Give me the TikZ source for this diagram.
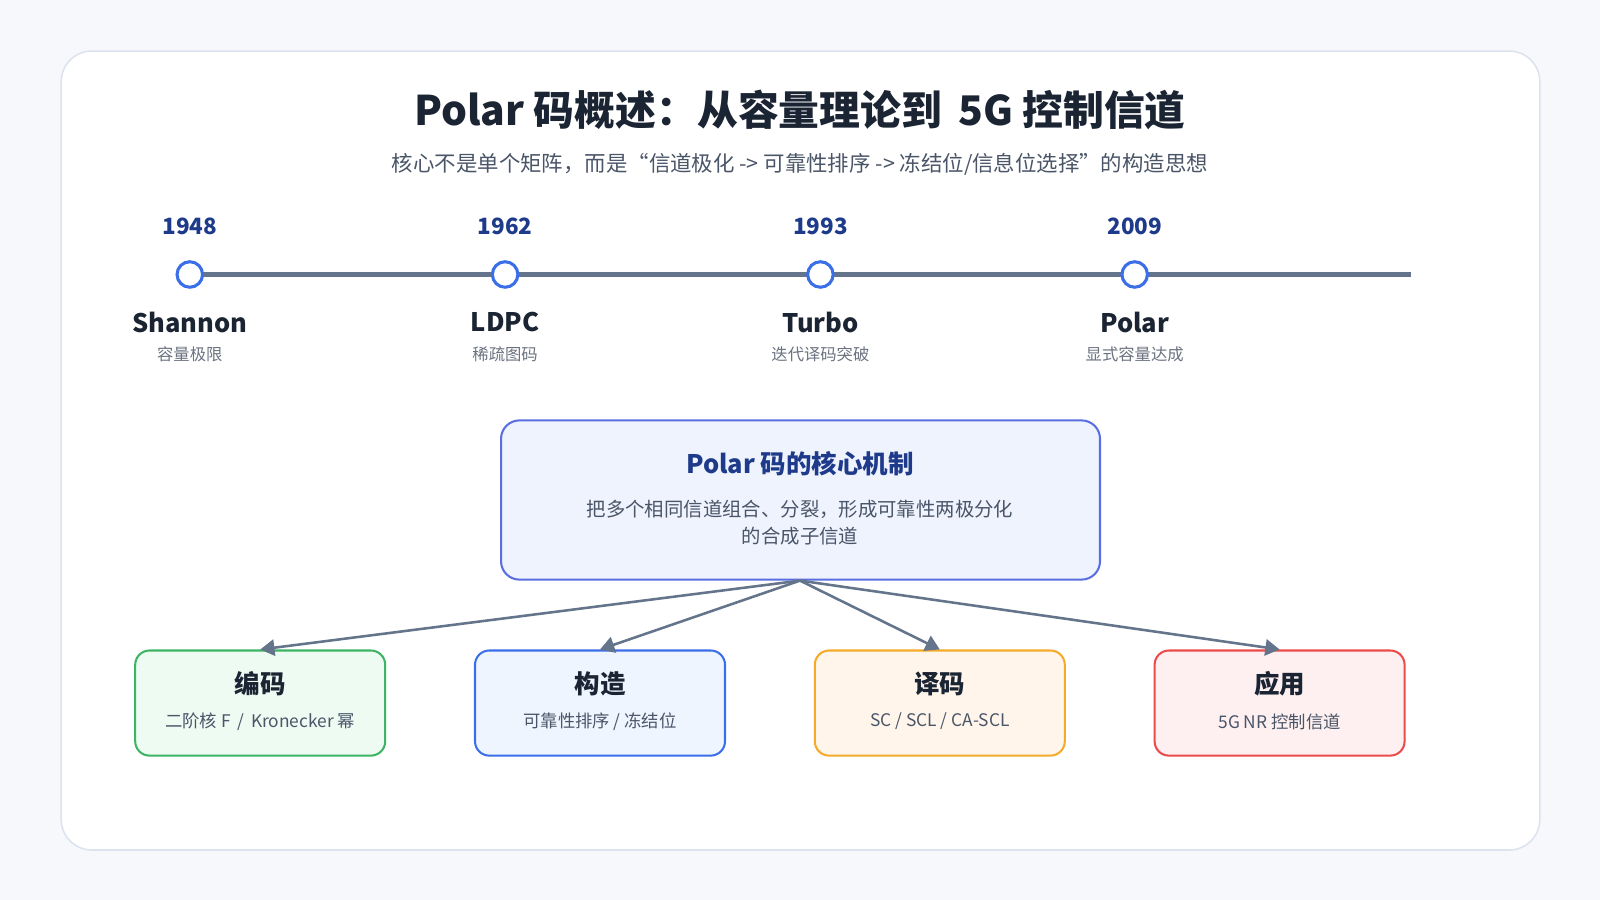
\documentclass[tikz,border=0pt]{standalone}
\usepackage{fontspec}
\setmainfont{Noto Sans CJK SC}
\usetikzlibrary{arrows.meta}
\definecolor{bg}{HTML}{F6F8FC}
\definecolor{cardedge}{HTML}{DCE3EE}
\definecolor{ink}{HTML}{1B2433}
\definecolor{subc}{HTML}{4A5568}
\definecolor{grayc}{HTML}{6B7280}
\definecolor{navy}{HTML}{1E3A8A}
\definecolor{linec}{HTML}{64748B}
\definecolor{dotc}{HTML}{3B6FE8}
\definecolor{coreE}{HTML}{5A6EE1}
\definecolor{coreF}{HTML}{EEF3FE}
\definecolor{gE}{HTML}{3CB464}\definecolor{gF}{HTML}{EDFBF2}
\definecolor{bE}{HTML}{3B6EEB}\definecolor{bF}{HTML}{EEF5FF}
\definecolor{oE}{HTML}{F5AA28}\definecolor{oF}{HTML}{FFF5EB}
\definecolor{rE}{HTML}{EB4B4B}\definecolor{rF}{HTML}{FEF0F0}
\tikzset{
 x=1pt,y=-1pt,
 tdot/.style={circle,draw=dotc,line width=3pt,fill=white,minimum size=25pt,inner sep=0},
 tyear/.style={font=\bfseries\fontsize{22}{26}\selectfont,text=navy},
 tname/.style={font=\bfseries\fontsize{25}{30}\selectfont,text=ink},
 tdesc/.style={font=\fontsize{16}{19}\selectfont,text=grayc},
 cbox/.style={rounded corners=14pt,line width=2pt,minimum width=245pt,minimum height=103pt},
 arr/.style={draw=linec,line width=2.5pt,-{Triangle[length=14pt,width=16pt]}},
}
\begin{document}
\begin{tikzpicture}
\fill[bg] (0,0) rectangle (1568,882);
\useasboundingbox (0,0) rectangle (1568,882);
\draw[cardedge,fill=white,line width=1.5pt,rounded corners=30pt] (60,50) rectangle (1509,833);
\node[font=\bfseries\fontsize{40}{46}\selectfont,text=ink] (title) at (784,108) {Polar 码概述：从容量理论到 \,5G 控制信道};
\node[font=\fontsize{21}{25}\selectfont,text=subc] (subt) at (784,161) {核心不是单个矩阵，而是“信道极化 -> 可靠性排序 -> 冻结位/信息位选择”的构造思想};
\coordinate (tend) at (1383,269);
\foreach \i/\x in {1/186,2/495,3/804,4/1112}{
 \coordinate (t\i) at (\x,269);
}
\draw[linec,line width=4pt] (t1) -- (tend);
\foreach \i/\x/\y/\n/\d in {1/186/1948/Shannon/容量极限,2/495/1962/LDPC/稀疏图码,3/804/1993/Turbo/迭代译码突破,4/1112/2009/Polar/显式容量达成}{
 \node[tdot] (d\i) at (t\i) {};
 \node[tyear] (y\i) at (\x,222) {\y};
 \node[tname] (n\i) at (\x,316) {\n};
 \node[tdesc] (e\i) at (\x,347) {\d};
}
\draw[line width=2pt,rounded corners=18pt,draw=coreE,fill=coreF] (491,412) rectangle (1078,568);
\coordinate (hub) at (784,569);
\node[font=\bfseries\fontsize{25}{30}\selectfont,text=navy] (ct) at (784,454) {Polar 码的核心机制};
\node[font=\fontsize{19}{27}\selectfont,text=subc,align=center] (cd) at (784,512) {把多个相同信道组合、分裂，形成可靠性两极分化\\的合成子信道};
\foreach \i/\x/\c/\f/\t/\d in {
 1/255/gE/gF/编码/{二阶核 F \,/\, Kronecker 幂},
 2/588/bE/bF/构造/{可靠性排序 / 冻结位},
 3/921/oE/oF/译码/{SC / SCL / CA-SCL},
 4/1254/rE/rF/应用/{5G NR 控制信道}}{
 \node[cbox,draw=\c,fill=\f] (b\i) at (\x,689) {};
 \node[font=\bfseries\fontsize{25}{30}\selectfont,text=ink] (bt\i) at (\x,670) {\t};
 \node[font=\fontsize{17}{20}\selectfont,text=subc] (bd\i) at (\x,707) {\d};
 \draw[arr] (hub) -- (b\i.north);
}
\end{tikzpicture}
\end{document}
